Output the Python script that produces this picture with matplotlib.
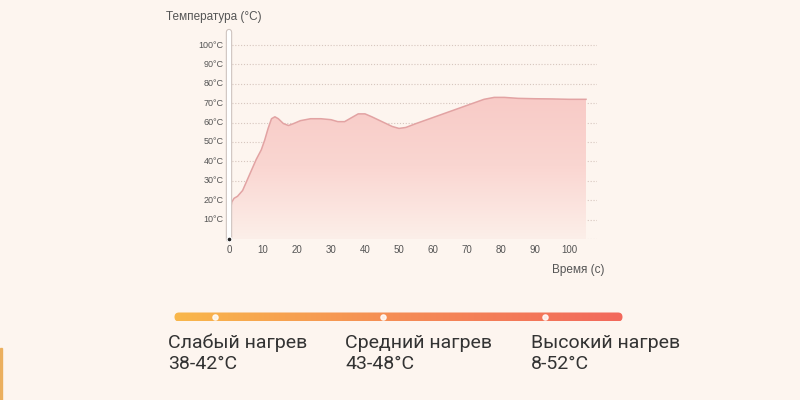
import matplotlib
matplotlib.use("Agg")
import matplotlib.pyplot as plt
import numpy as np
from matplotlib.colors import LinearSegmentedColormap
from matplotlib.patches import Polygon, FancyBboxPatch, Rectangle

# данные
time_s = [0, 0.8, 1.5, 2.5, 4, 6, 8, 9.5, 10.5, 11.5, 12.5, 13.5, 14.5, 16, 17.5,
          19, 21, 24, 27, 30, 32, 34, 36, 38, 40, 42, 45, 48, 50, 52, 55, 59, 63,
          67, 71, 75, 78, 81, 85, 90, 95, 100, 105]
temp_c = [10, 19, 21, 22, 25, 33, 41, 46, 51, 57, 62, 63, 62, 59.5, 58.5,
          59.5, 61, 62, 62, 61.5, 60.5, 60.5, 62.5, 64.5, 64.5, 63, 60.5, 58, 57, 57.5, 59.5, 62, 64.5,
          67, 69.5, 72, 73, 73, 72.5, 72.3, 72.2, 72, 72]
y_ticks = [10, 20, 30, 40, 50, 60, 70, 80, 90, 100]
x_ticks = [0, 10, 20, 30, 40, 50, 60, 70, 80, 90, 100]
levels = ["Слабый нагрев", "Средний нагрев", "Высокий нагрев"]
ranges = ["38-42°C", "43-48°C", "8-52°C"]
level_x = [168, 345, 531]
dot_x = [215, 383, 545]

bg = "#FDF5EF"
W, H = 800, 400
fig = plt.figure(figsize=(8, 4), dpi=100, facecolor=bg)

# основной график
ax = fig.add_axes([229 / W, 161 / H, 368 / W, 209 / H])
ax.set_facecolor("none")
xmax, ymax = 368 / 3.4, 209 / 1.94
ax.set_xlim(0, xmax)
ax.set_ylim(0, ymax)
ax.axis("off")

grid_c = "#d6c6be"
for v in y_ticks:
    ax.plot([0, xmax], [v, v], color=grid_c, lw=0.8, ls=(0, (1, 1.6)), zorder=1)
    ax.text(-1.6, v, f"{v}°C", ha="right", va="center", fontsize=6.5,
            color="#555555", family="Liberation Sans")
ax.plot([0, xmax], [0, 0], color="#c9bab2", lw=0.8, ls=(0, (1, 1.6)), zorder=1)
for v in x_ticks:
    if v > 0:
        ax.plot([v, v], [0, 1.5], color="#c9bab2", lw=0.7, zorder=1)
    ax.text(v, -5.5, str(v), ha="center", va="center", fontsize=7,
            color="#555555", family="Liberation Sans")

# градиентная заливка под кривой
t = np.array(time_s)
y = np.array(temp_c)
poly = np.vstack([np.column_stack([t, y]), [[t[-1], 0], [t[0], 0]]])
patch = Polygon(poly, closed=True, facecolor="none", edgecolor="none")
ax.add_patch(patch)
cmap = LinearSegmentedColormap.from_list("fill", ["#FCEFE9", "#FAD6D1", "#F8CAC6"])
grad = np.linspace(0, 1, 256).reshape(-1, 1)
im = ax.imshow(grad, extent=[0, t[-1], 0, 75], origin="lower", aspect="auto",
               cmap=cmap, zorder=2)
im.set_clip_path(patch)
ax.plot(t, y, color="#E2A3A3", lw=1.1, zorder=3)

# ось температуры в виде трубки
ax.plot([0, 0], [0, ymax - 1], color="#cfc4bf", lw=4.6, solid_capstyle="round",
        zorder=4, clip_on=False)
ax.plot([0, 0], [0, ymax - 1], color="white", lw=3.0, solid_capstyle="round",
        zorder=5, clip_on=False)
ax.scatter([0], [0], s=12, color="#222222", edgecolor="white", lw=0.8, zorder=6,
           clip_on=False)

fig.text(166 / W, 1 - 17 / H, "Температура (°C)", ha="left", va="center",
         fontsize=8.5, color="#555555", family="Liberation Sans")
fig.text(605 / W, 1 - 270 / H, "Время (с)", ha="right", va="center",
         fontsize=8.5, color="#555555", family="Liberation Sans")

# шкала нагрева
bar = fig.add_axes([0, 0, 1, 1])
bar.set_xlim(0, W)
bar.set_ylim(H, 0)
bar.axis("off")
bar.set_facecolor("none")
x0, x1, yc, h = 170, 627, 317, 9
clip = FancyBboxPatch((x0 + h / 2, yc - h / 2), x1 - x0 - h, h,
                      boxstyle=f"round,pad=0,rounding_size={h / 2}",
                      mutation_aspect=1, facecolor="none", edgecolor="none")
bar.add_patch(clip)
hcmap = LinearSegmentedColormap.from_list("heat", ["#F9B84B", "#F58C55", "#F2685C"])
im2 = bar.imshow(np.linspace(0, 1, 256).reshape(1, -1), extent=[x0, x1, yc + h / 2, yc - h / 2],
                 aspect="auto", cmap=hcmap)
im2.set_clip_path(clip)
bar.scatter(dot_x, [yc] * 3, s=14, color="white", alpha=0.85, zorder=3)

for lx, name, rng in zip(level_x, levels, ranges):
    bar.text(lx, 343, name, ha="left", va="center", fontsize=14, color="#333333",
             family="Roboto")
    bar.text(lx, 364, rng, ha="left", va="center", fontsize=14, color="#333333",
             family="Roboto")

bar.add_patch(Rectangle((0, 348), 1.5, 52, color="#E9A64A", alpha=0.8))

fig.savefig("out.png", dpi=100, facecolor=bg)
